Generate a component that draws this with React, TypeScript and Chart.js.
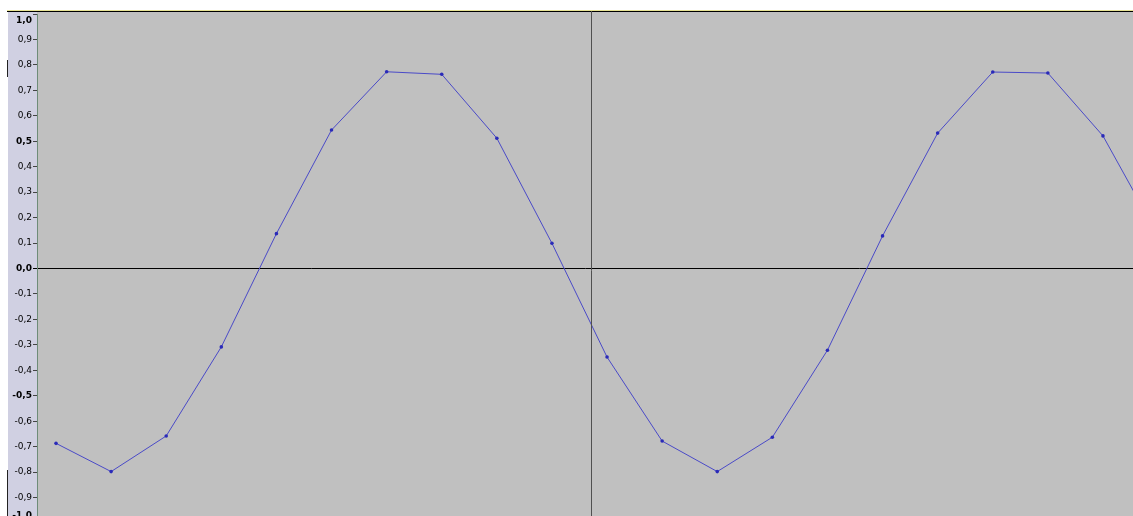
import React, { useEffect, useRef } from "react";
import { Chart, registerables } from "chart.js";

Chart.register(...registerables);

const SAMPLE_INDEX = [0, 1, 2, 3, 4, 5, 6, 7, 8, 9, 10, 11, 12, 13, 14, 15, 16, 17, 18, 19, 20];
const SAMPLE_VALUES = [
  -0.687, -0.798, -0.658, -0.308, 0.137, 0.544, 0.773, 0.763, 0.512, 0.099,
  -0.348, -0.678, -0.798, -0.663, -0.321, 0.128, 0.532, 0.772, 0.768, 0.521, 0.13,
];
// visible x window (in samples) and cursor position
const X_MIN = -0.345;
const X_MAX = 19.545;
const CURSOR_X = 9.7;
// amplitude axis
const Y_MIN = -1.0;
const Y_MAX = 1.0;
const Y_STEP = 0.1;
const BOLD_TICKS = [-1.0, -0.5, 0.0, 0.5, 1.0];

const W = 1133;
const H = 530;

function fmt(v: number): string {
  let r = Math.round(v * 10) / 10;
  if (Math.abs(r) < 1e-9) r = 0;
  return r.toFixed(1).replace(".", ",");
}

export default function App() {
  const ref = useRef<HTMLCanvasElement | null>(null);

  useEffect(() => {
    if (!ref.current) return;
    const bgPlugin = {
      id: "bg",
      beforeDraw(chart: any) {
        const { ctx, chartArea } = chart;
        const width = chart.width;
        const height = chart.height;
        ctx.save();
        ctx.fillStyle = "#ffffff";
        ctx.fillRect(0, 0, width, height);
        ctx.fillStyle = "#d0d0e2";
        ctx.fillRect(8, 12, chartArea.left - 8, height - 12);
        ctx.fillStyle = "#c0c0c0";
        ctx.fillRect(chartArea.left, 12, width - chartArea.left, height - 12);
        ctx.fillStyle = "#e8e496";
        ctx.fillRect(7, 10, width - 7, 1);
        ctx.fillStyle = "#000000";
        ctx.fillRect(7, 11, width - 7, 1);
        ctx.fillStyle = "#222222";
        ctx.fillRect(7, 60, 1, 17);
        ctx.fillRect(7, 470, 1, height - 470);
        ctx.restore();
      },
    };
    const cursorPlugin = {
      id: "cursor",
      afterDatasetsDraw(chart: any) {
        const { ctx } = chart;
        const px = Math.round(chart.scales.x.getPixelForValue(CURSOR_X)) + 0.5;
        ctx.save();
        ctx.strokeStyle = "#505050";
        ctx.lineWidth = 1;
        ctx.beginPath();
        ctx.moveTo(px, 11);
        ctx.lineTo(px, chart.height);
        ctx.stroke();
        ctx.restore();
      },
    };

    const chart = new Chart(ref.current, {
      type: "line",
      data: {
        datasets: [
          {
            data: SAMPLE_INDEX.map((x, i) => ({ x, y: SAMPLE_VALUES[i] })),
            borderColor: "#4a4ac8",
            borderWidth: 1,
            pointRadius: 1.8,
            pointBackgroundColor: "#2a2ab8",
            pointBorderWidth: 0,
            tension: 0,
          },
        ],
      },
      options: {
        responsive: false,
        animation: false,
        events: [],
        layout: { autoPadding: false, padding: { top: 14, bottom: H - 523, left: 0, right: 0 } },
        plugins: { legend: { display: false }, tooltip: { enabled: false } },
        scales: {
          x: {
            type: "linear",
            min: X_MIN,
            max: X_MAX,
            display: false,
          },
          y: {
            type: "linear",
            min: Y_MIN,
            max: Y_MAX,
            afterFit(scale: any) {
              scale.width = 37;
              scale.paddingTop = 0;
              scale.paddingBottom = 0;
            },
            ticks: {
              stepSize: Y_STEP,
              autoSkip: false,
              color: "#000000",
              padding: 1,
              font: (ctx: any) => {
                const v = Math.round((ctx.tick ? ctx.tick.value : 0) * 10) / 10;
                const bold = BOLD_TICKS.some((b) => Math.abs(b - v) < 1e-9);
                let lh = "11px";
                if (Math.abs(v - 1) < 1e-9) lh = "13.4px";
                if (Math.abs(v + 1) < 1e-9) lh = "15.2px";
                return { family: "DejaVu Sans", size: 9, weight: bold ? "bold" : "normal", lineHeight: lh };
              },
              callback: (value: any) => {
                const v = Number(value);
                const s = fmt(v);
                if (Math.abs(v - 1) < 1e-9) return ["", s];
                if (Math.abs(v + 1) < 1e-9) return [s, ""];
                return s;
              },
            },
            grid: {
              drawOnChartArea: true,
              drawTicks: true,
              tickLength: 4,
              lineWidth: 1,
              color: (ctx: any) =>
                ctx.tick && Math.abs(ctx.tick.value) < 1e-9 ? "#000000" : "rgba(0,0,0,0)",
              tickColor: (ctx: any) =>
                ctx.tick && Math.abs(ctx.tick.value) < 1e-9 ? "#000000" : "#444444",
            },
            border: { display: true, color: "#6e8c78", width: 1 },
          },
        },
      },
      plugins: [bgPlugin, cursorPlugin],
    } as any);
    return () => chart.destroy();
  }, []);

  return (
    <div
      style={{
        position: "fixed",
        left: 0,
        top: 0,
        width: W,
        height: 516,
        overflow: "hidden",
        background: "#fff",
      }}
    >
      <canvas ref={ref} width={W} height={H} style={{ display: "block" }} />
    </div>
  );
}
